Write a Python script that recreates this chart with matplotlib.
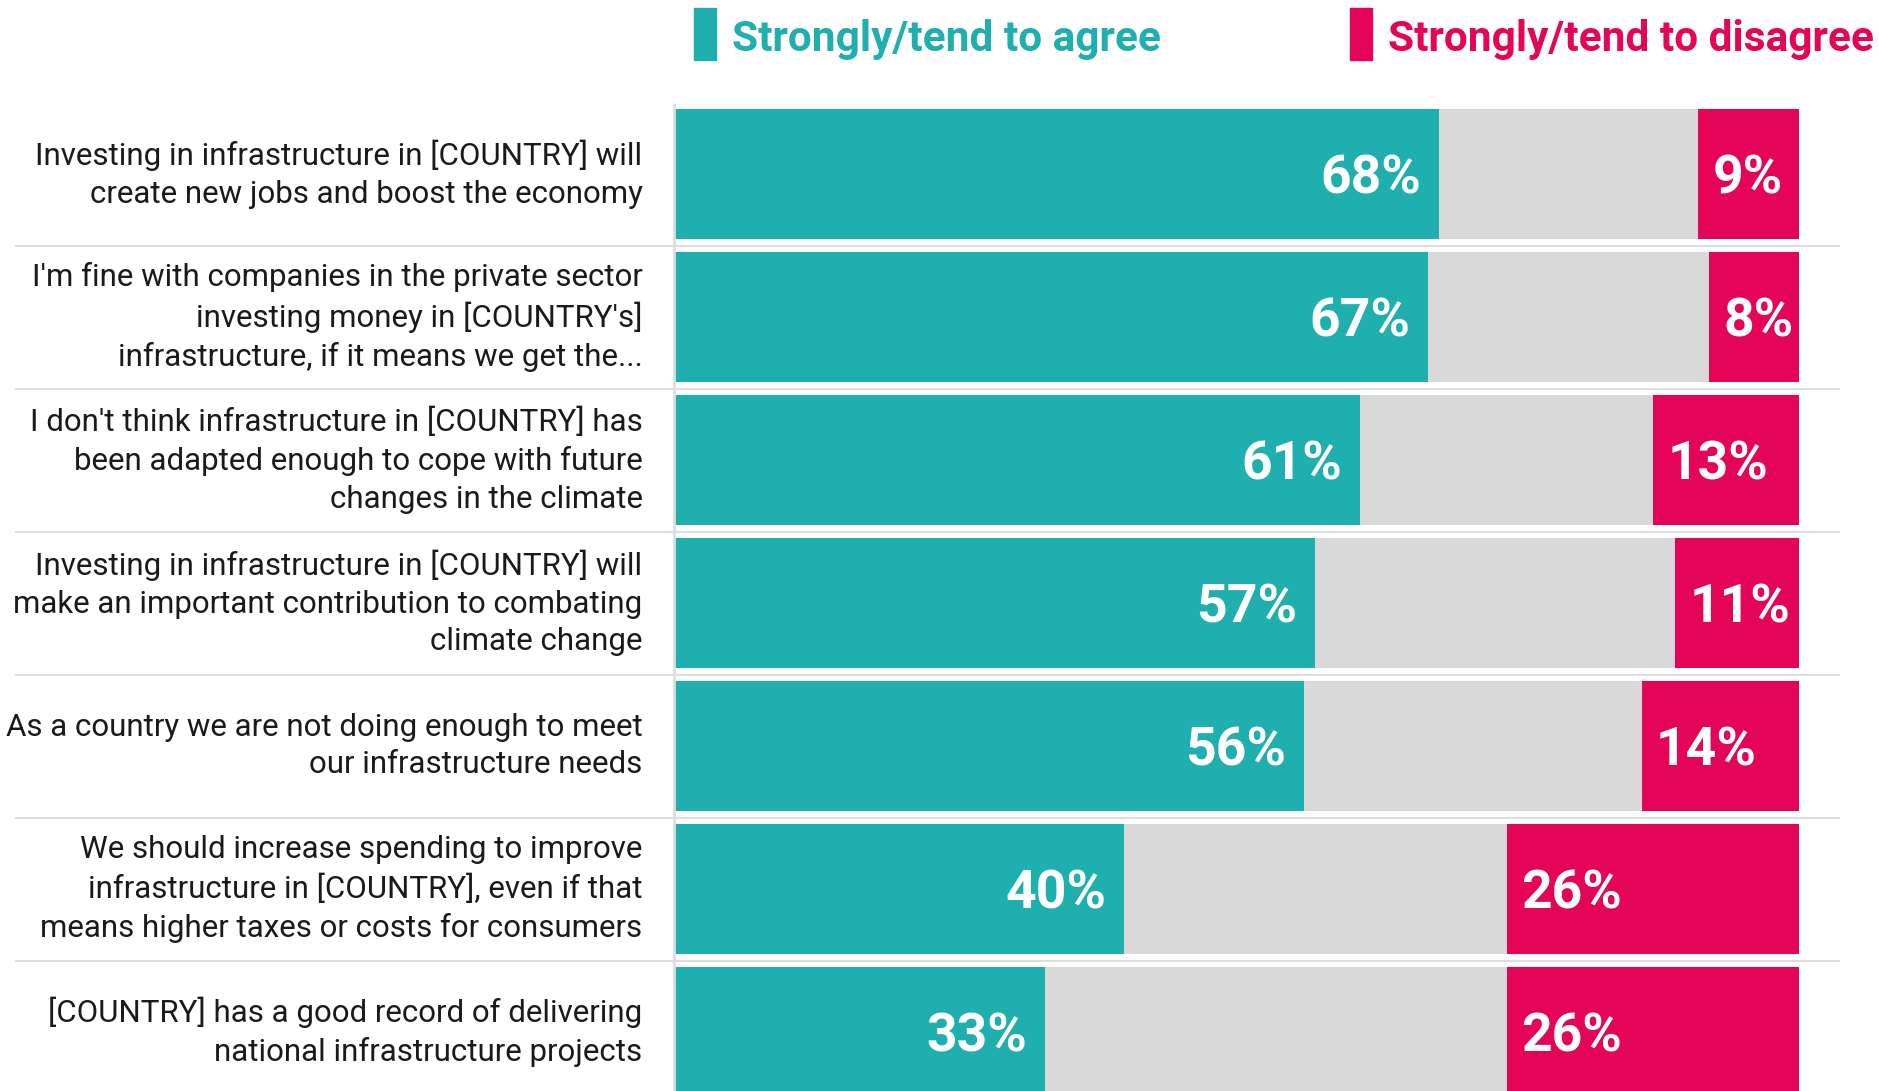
import numpy as np
import matplotlib.pyplot as plt
import matplotlib.transforms as mtransforms

plt.rcParams['font.family'] = ['Roboto', 'DejaVu Sans']

statements = [
    "Investing in infrastructure in [COUNTRY] will\ncreate new jobs and boost the economy",
    "I'm fine with companies in the private sector\ninvesting money in [COUNTRY's]\ninfrastructure, if it means we get the...",
    "I don't think infrastructure in [COUNTRY] has\nbeen adapted enough to cope with future\nchanges in the climate",
    "Investing in infrastructure in [COUNTRY] will\nmake an important contribution to combating\nclimate change",
    "As a country we are not doing enough to meet\nour infrastructure needs",
    "We should increase spending to improve\ninfrastructure in [COUNTRY], even if that\nmeans higher taxes or costs for consumers",
    "[COUNTRY] has a good record of delivering\nnational infrastructure projects",
]
agree = [68, 67, 61, 57, 56, 40, 33]
neutral = [23, 25, 26, 32, 30, 34, 41]
disagree = [9, 8, 13, 11, 14, 26, 26]

teal = '#1FAFAE'
red = '#E40458'
grey = '#D9D9D9'
line_grey = '#DEDEDE'

W, H = 1879, 1091
fig = plt.figure(figsize=(W/100, H/100), dpi=100)
# axes x: 0..100 mapped to px 674..1799, full height
ax = fig.add_axes([674/W, 0, (1799-674)/W, 1])
ax.set_xlim(0, 100)
ax.set_ylim((H-174)/143, -174/143)
ax.axis('off')

y = np.arange(len(statements))
agree = np.array(agree); neutral = np.array(neutral); disagree = np.array(disagree)
ax.barh(y, agree, height=0.91, color=teal, linewidth=0)
ax.barh(y, neutral, left=agree, height=0.91, color=grey, linewidth=0)
ax.barh(y, disagree, left=agree+neutral, height=0.91, color=red, linewidth=0)

val_font = dict(color='white', fontsize=38.5, fontweight='bold', va='center')
for i in range(len(y)):
    ax.text(agree[i]-1.6, y[i]+0.035, f"{agree[i]}%", ha='right', **val_font)
    ax.text(agree[i]+neutral[i]+1.3, y[i]+0.035, f"{disagree[i]}%", ha='left', **val_font)
    ax.text(-2.8, y[i], statements[i], ha='right', va='center', fontsize=22.5,
            color='#1a1a1a', linespacing=1.38, multialignment='right')

trans = mtransforms.blended_transform_factory(ax.transAxes, ax.transData)
for i in range(len(y)-1):
    ax.plot([-0.585, 1.036], [y[i]+0.5, y[i]+0.5], transform=trans, color=line_grey,
            lw=1.5, clip_on=False, zorder=0)
ax.plot([0, 0], [-0.48, y[-1]+1], color=line_grey, lw=2, clip_on=False, zorder=3)

# legend
fig.patches.append(plt.Rectangle((694/W, 1-60/H), 22/W, 52/H, transform=fig.transFigure,
                                 color=teal))
fig.patches.append(plt.Rectangle((1350/W, 1-60/H), 22/W, 52/H, transform=fig.transFigure,
                                 color=red))
fig.text(732/W, 1-39/H, "Strongly/tend to agree", color=teal, fontsize=30.5,
         fontweight='bold', va='center', ha='left')
fig.text(1388/W, 1-39/H, "Strongly/tend to disagree", color=red, fontsize=30.5,
         fontweight='bold', va='center', ha='left')

fig.savefig('out.png', dpi=100)
